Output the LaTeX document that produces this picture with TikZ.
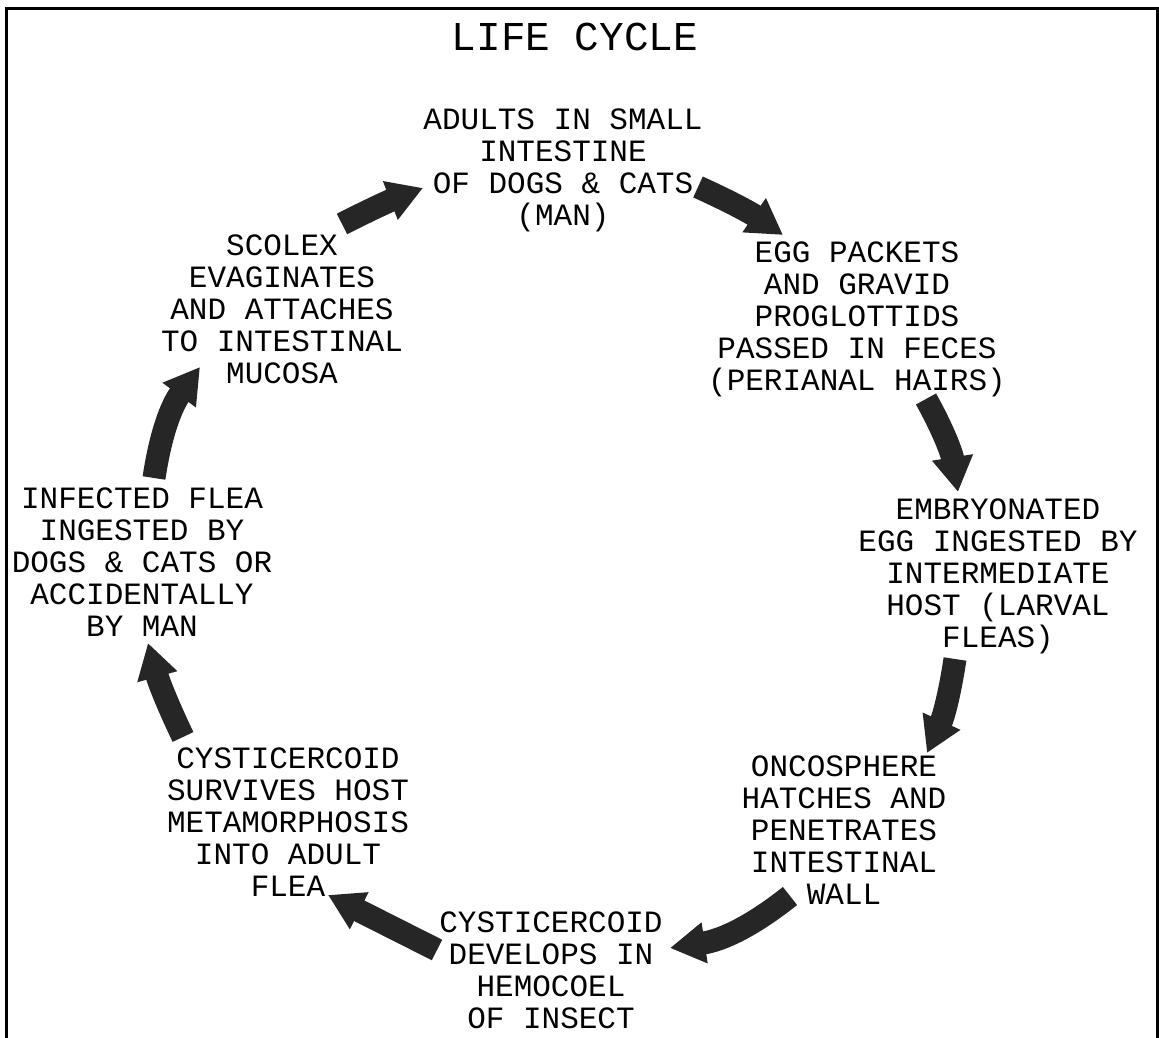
\documentclass[tikz,border=0pt]{standalone}
\usepackage{fontspec}
\setmainfont{Liberation Mono}
\usetikzlibrary{arrows.meta}
\begin{document}
\begin{tikzpicture}[x=1pt,y=1pt,
  lbl/.style={align=center, inner sep=0pt, font=\fontsize{31}{32}\selectfont},
  ttl/.style={inner sep=0pt, font=\fontsize{41}{44}\selectfont},
  cyc/.style={line width=23pt, draw=black!85, -{Triangle[length=35pt,width=39pt]}},
  frameline/.style={line width=2.5pt, line join=miter}]
\useasboundingbox (0,0) rectangle (1159,1038);
\draw[frameline] (6.7,0) -- (6.7,1029.7) -- (1157.3,1029.7) -- (1157.3,0);

\node[ttl] (title) at (575,1001) {LIFE CYCLE};

\node[lbl] (b1) at (563,868) {ADULTS IN SMALL\\INTESTINE\\OF DOGS \& CATS\\(MAN)};
\node[lbl] (b2) at (857,719) {EGG PACKETS\\AND GRAVID\\PROGLOTTIDS\\PASSED IN FECES\\(PERIANAL HAIRS)};
\node[lbl] (b3) at (998,462) {EMBRYONATED\\EGG INGESTED BY\\INTERMEDIATE\\HOST (LARVAL\\FLEAS)};
\node[lbl] (b4) at (844,208) {ONCOSPHERE\\HATCHES AND\\PENETRATES\\INTESTINAL\\WALL};
\node[lbl] (b5) at (551,68) {CYSTICERCOID\\DEVELOPS IN\\HEMOCOEL\\OF INSECT};
\node[lbl] (b6) at (288,216) {CYSTICERCOID\\SURVIVES HOST\\METAMORPHOSIS\\INTO ADULT\\FLEA};
\node[lbl] (b7) at (142,476) {INFECTED FLEA\\INGESTED BY\\DOGS \& CATS OR\\ACCIDENTALLY\\BY MAN};
\node[lbl] (b8) at (282,729) {SCOLEX\\EVAGINATES\\AND ATTACHES\\TO INTESTINAL\\MUCOSA};

\coordinate (a1s) at (342,814); \coordinate (a1e) at (423,850);
\coordinate (a2s) at (698,851); \coordinate (a2e) at (783,803);
\coordinate (a3s) at (926,639); \coordinate (a3e) at (958,546);
\coordinate (a4s) at (955,379); \coordinate (a4e) at (927,285);
\coordinate (a5s) at (790,142); \coordinate (a5e) at (670,90);
\coordinate (a6s) at (437,88);  \coordinate (a6e) at (328,143);
\coordinate (a7s) at (183,301); \coordinate (a7e) at (148,395);
\coordinate (a8s) at (154,560); \coordinate (a8e) at (200,671);

\draw[cyc] (a1s) to[bend left=3] (a1e);
\draw[cyc] (a2s) to[bend left=5] (a2e);
\draw[cyc] (a3s) to[bend left=10] (a3e);
\draw[cyc] (a4s) to[bend left=8] (a4e);
\draw[cyc] (a5s) to[bend left=15] (a5e);
\draw[cyc] (a6s) to (a6e);
\draw[cyc] (a7s) to[bend left=5] (a7e);
\draw[cyc] (a8s) to[bend left=14] (a8e);
\end{tikzpicture}
\end{document}
